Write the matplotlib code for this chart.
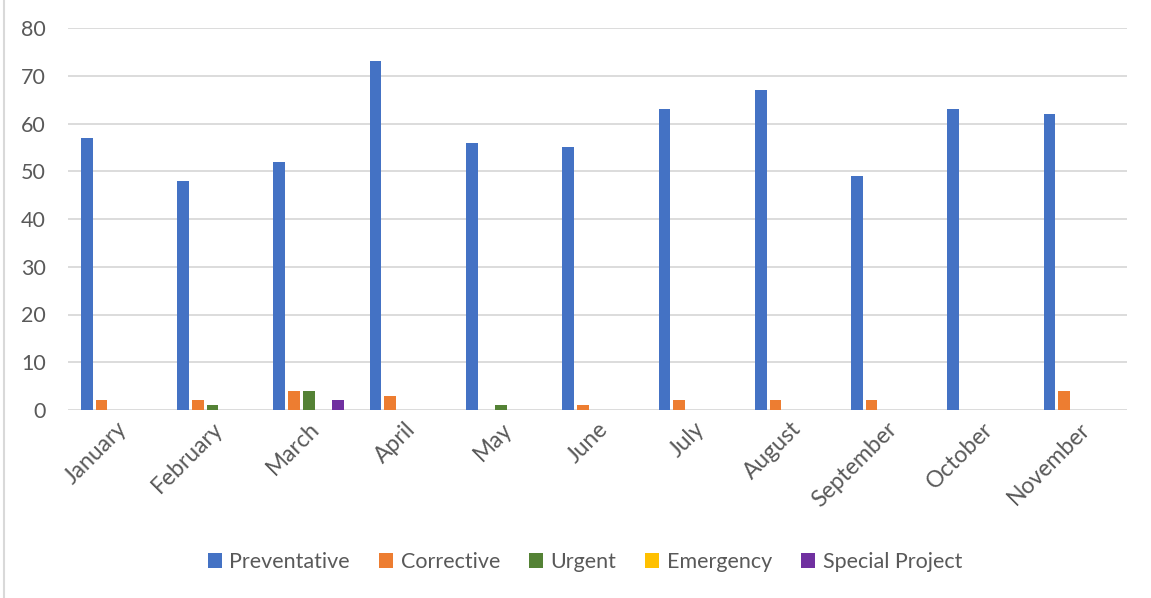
import numpy as np
import matplotlib.pyplot as plt
from matplotlib.patches import Rectangle

months = ['January', 'February', 'March', 'April', 'May', 'June',
          'July', 'August', 'September', 'October', 'November']
preventative = [57, 48, 52, 73, 56, 55, 63, 67, 49, 63, 62]
corrective = [2, 2, 4, 3, 0, 1, 2, 2, 2, 0, 4]
urgent = [0, 1, 4, 0, 1, 0, 0, 0, 0, 0, 0]
emergency = [0, 0, 0, 0, 0, 0, 0, 0, 0, 0, 0]
special_project = [0, 0, 2, 0, 0, 0, 0, 0, 0, 0, 0]

series = [
    ('Preventative', preventative, '#4472C4'),
    ('Corrective', corrective, '#ED7D31'),
    ('Urgent', urgent, '#548235'),
    ('Emergency', emergency, '#FFC000'),
    ('Special Project', special_project, '#7030A0'),
]

plt.rcParams['font.family'] = ['Lato', 'DejaVu Sans']
text_color = '#595959'

fig = plt.figure(figsize=(11.51, 5.98), dpi=100)
ax = fig.add_axes([68 / 1151, 1 - 410 / 598, (1127 - 68) / 1151, (410 - 28) / 598])

x = np.arange(len(months))
pitch = 0.1526
width = 0.1215
for j, (name, vals, col) in enumerate(series):
    ax.bar(x + (j - 2) * pitch, vals, width, color=col, label=name, zorder=3)

ax.set_xlim(-0.5, len(months) - 0.5)
ax.set_ylim(0, 80)
ax.set_yticks(range(0, 81, 10))
ax.yaxis.grid(True, color='#D9D9D9', linewidth=1.3, zorder=0)
ax.tick_params(axis='y', length=0, labelsize=15.5, labelcolor=text_color, pad=16)
for s in ax.spines.values():
    s.set_visible(False)

ax.set_xticks(x)
ax.set_xticklabels(months, rotation=45, ha='right', rotation_mode='anchor')
ax.tick_params(axis='x', length=0, labelsize=16.5, labelcolor=text_color, pad=6)

leg = fig.legend(loc='center', bbox_to_anchor=(585 / 1151, 1 - 562 / 598), ncol=5,
                 frameon=False, fontsize=15.5, handlelength=0.65, handleheight=0.65,
                 handletextpad=0.35, columnspacing=1.35)
for t in leg.get_texts():
    t.set_color(text_color)

# light chart border on the left
fig.add_artist(Rectangle((4 / 1151, -0.01), 2, 1.02, transform=fig.transFigure,
                         facecolor='none', edgecolor='#D9D9D9', linewidth=1.5))

fig.savefig('out.png', dpi=100)
